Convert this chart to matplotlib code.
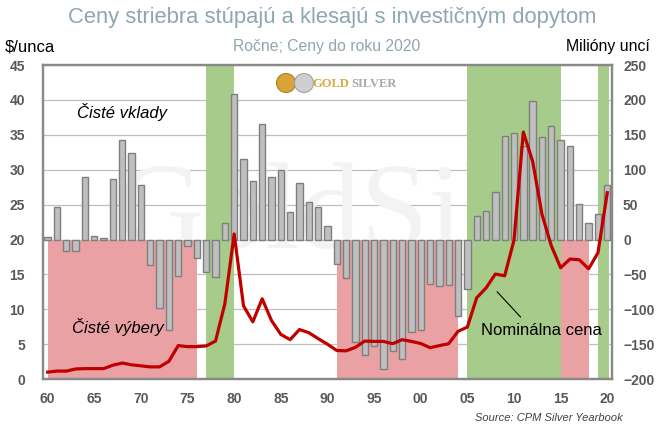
#!/usr/bin/env python
from __future__ import annotations

import matplotlib
matplotlib.use("Agg")
import matplotlib.pyplot as plt
from matplotlib.patches import Ellipse

# --- data ---
years = list(range(1960, 2021))

# net investment flows, million ounces (right axis)
net_flows = [
    3, 47, -16, -16, 89, 5, 2, 87, 142, 124,
    78, -37, -98, -129, -52, -10, -26, -46, -53, 24,
    209, 116, 84, 166, 89, 99, 39, 81, 54, 47,
    19, -35, -55, -147, -166, -153, -186, -160, -171, -133,
    -130, -64, -67, -65, -109, -71, 34, 41, 68, 149,
    152, 134, 198, 147, 162, 143, 134, 51, 23, 37,
    78,
]

# nominal silver price, $/oz (left axis)
price = [
    1.0, 1.15, 1.15, 1.45, 1.5, 1.5, 1.5, 2.0, 2.3, 2.05,
    1.9, 1.75, 1.75, 2.55, 4.8, 4.65, 4.65, 4.75, 5.45, 10.8,
    20.8, 10.5, 8.2, 11.5, 8.4, 6.4, 5.65, 7.1, 6.65, 5.8,
    5.0, 4.1, 4.05, 4.55, 5.45, 5.4, 5.4, 5.07, 5.65, 5.4,
    5.1, 4.5, 4.8, 5.07, 6.85, 7.45, 11.65, 13.05, 15.05, 14.8,
    19.9, 35.4, 31.2, 23.6, 19.1, 15.95, 17.2, 17.1, 15.8, 18.1,
    26.7,
]

# periods of rising prices (green) and net withdrawals (pink)
green_periods = [(1977, 1980), (2005, 2015), (2019, 2020.2)]
pink_periods = [(1960, 1976), (1991, 2004), (2015, 2018)]

left_ticks = list(range(0, 50, 5))
right_ticks = list(range(-200, 300, 50))
x_ticks = list(range(1960, 2025, 5))

GREEN = "#A6CB8B"
PINK = "#E9A1A3"
BAR = "#BFBFBF"
BAR_EDGE = "#7F7F7F"
RED = "#C00000"
TICK = "#595959"
TITLE = "#8FA6AF"
SPINE = "#898989"


def main() -> None:
    plt.rcParams["font.family"] = ["Liberation Sans", "DejaVu Sans"]
    fig = plt.figure(figsize=(6.58, 4.25), dpi=100)
    ax = fig.add_axes([0.0653, 0.108, 0.8647, 0.739])

    # bars + shading on the flow (right) scale
    for a, b in green_periods:
        ax.axvspan(a, b, color=GREEN, zorder=1, lw=0)
    for a, b in pink_periods:
        ax.fill_between([a, b], -200, 0, color=PINK, zorder=1, lw=0)

    ax.bar(years, net_flows, width=0.68, color=BAR, edgecolor=BAR_EDGE,
           linewidth=1.0, zorder=3)
    ax.set_ylim(-200, 250)
    ax.set_xlim(1959.5, 2020.5)
    ax.set_yticks(right_ticks)
    ax.grid(axis="y", color="#BFBFBF", linewidth=0.9)
    ax.set_axisbelow(True)
    ax.set_xticks(x_ticks)
    ax.set_xticklabels([f"{y % 100:02d}" for y in x_ticks])

    # faint watermark
    ax.text(1991, 30, "GoldSilv", fontsize=88, family="Liberation Serif",
            color="#F3F3F3", ha="center", va="center", zorder=0.8)

    # price line on the left scale
    ax2 = ax.twinx()
    ax2.plot(years, price, color=RED, linewidth=2.3, zorder=5,
             solid_joinstyle="round")
    ax2.set_ylim(0, 45)
    ax2.set_yticks(left_ticks)
    ax2.set_xlim(1959.5, 2020.5)
    ax.yaxis.tick_right()
    ax2.yaxis.tick_left()

    for a in (ax, ax2):
        a.tick_params(length=0, labelsize=10, labelcolor=TICK)
        for lbl in a.get_xticklabels() + a.get_yticklabels():
            lbl.set_fontweight("bold")
        for s in a.spines.values():
            s.set_color(SPINE)
            s.set_linewidth(1.6)
    ax.tick_params(axis="x", pad=9)
    ax.tick_params(axis="y", pad=8)
    ax2.tick_params(axis="y", pad=13)

    # annotations
    ax2.text(1968.0, 38.2, "Čisté vklady", fontsize=12, style="italic",
             ha="center", va="center", zorder=6)
    ax2.text(1967.5, 7.45, "Čisté výbery", fontsize=12, style="italic",
             ha="center", va="center", zorder=6)
    ax2.text(2012.9, 7.0, "Nominálna cena", fontsize=12,
             ha="center", va="center", zorder=6)
    ax2.plot([2008.2, 2010.7], [12.5, 8.9], color="black", lw=0.8, zorder=6)

    # titles
    fig.text(0.505, 1 - 17 / 425, "Ceny striebra stúpajú a klesajú s investičným dopytom",
             ha="center", va="center", fontsize=15.8, color=TITLE)
    fig.text(0.496, 1 - 47 / 425, "Ročne; Ceny do roku 2020",
             ha="center", va="center", fontsize=11.3, color=TITLE)
    fig.text(5 / 658, 1 - 47 / 425, "$/unca", ha="left", va="center",
             fontsize=12, color="black")
    fig.text(650 / 658, 1 - 47 / 425, "Milióny uncí", ha="right", va="center",
             fontsize=11.4, color="black")
    fig.text(623 / 658, 1 - 418 / 425, "Source: CPM Silver Yearbook",
             ha="right", va="center", fontsize=8, style="italic", color="#404040")

    # logo
    for cx, fc, ec in ((286, "#D9A33A", "#B07F20"), (304, "#CFCFCF", "#A0A0A0")):
        fig.add_artist(Ellipse((cx / 658, 1 - 83 / 425), 19 / 658, 19 / 425,
                               transform=fig.transFigure, facecolor=fc,
                               edgecolor=ec, lw=0.8, zorder=10))
    fig.text(349 / 658, 1 - 84 / 425, "GOLD", ha="right", va="center",
             fontsize=9, family="Liberation Serif", color="#D9A840",
             fontweight="bold", zorder=10)
    fig.text(351 / 658, 1 - 84 / 425, "SILVER", ha="left", va="center",
             fontsize=9, family="Liberation Serif", color="#A8A8A8",
             fontweight="bold", zorder=10)

    fig.savefig("out.png", dpi=100)
    plt.close(fig)


if __name__ == "__main__":
    main()
